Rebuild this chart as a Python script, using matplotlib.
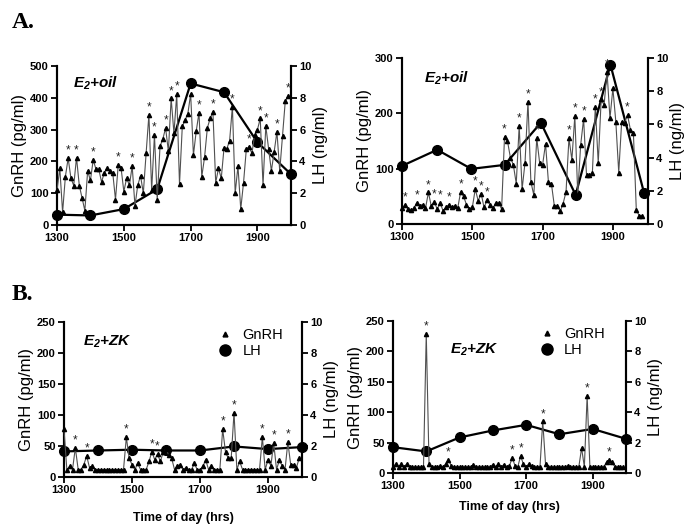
import numpy as np
import matplotlib
matplotlib.use("Agg")
import matplotlib.pyplot as plt
from matplotlib.lines import Line2D

plt.rcParams['font.family'] = ['Liberation Sans', 'DejaVu Sans']
plt.rcParams['mathtext.fontset'] = 'custom'
plt.rcParams['mathtext.it'] = 'Liberation Sans:bold:italic'
plt.rcParams['mathtext.rm'] = 'Liberation Sans:bold:italic'

# GnRH sampled every 5 min from 1300 hrs (time axis in decimal "hrs x 100")
t0 = 1300
step = 100 / 12

gnrh_a_oil1 = [110, 178, 40, 152, 210, 147, 124, 212, 124, 85,
               45, 170, 140, 205, 175, 175, 135, 165, 178, 170,
               165, 80, 190, 180, 105, 147, 125, 185, 60, 125,
               155, 100, 225, 346, 110, 283, 79, 248, 270, 305,
               232, 398, 288, 411, 128, 310, 330, 350, 412, 220,
               295, 353, 152, 213, 305, 335, 356, 133, 178, 147,
               243, 240, 265, 372, 100, 185, 50, 133, 238, 246,
               225, 283, 300, 335, 125, 311, 240, 170, 230, 293,
               170, 280, 390, 405]
stars_a_oil1 = [4, 7, 13, 22, 27, 33, 35, 39, 41, 43, 51, 56, 63, 69, 73, 75, 79, 83]
lh_t_a_oil1 = [1300, 1400, 1500, 1600, 1700, 1800, 1900, 2000]
lh_a_oil1 = [0.65, 0.6, 1.0, 2.25, 8.9, 8.35, 5.2, 3.2]

gnrh_a_oil2 = [28, 35, 27, 25, 28, 38, 33, 35, 28, 57,
               32, 40, 27, 38, 24, 30, 35, 30, 33, 28,
               58, 50, 35, 27, 30, 63, 42, 55, 30, 43,
               35, 28, 38, 38, 27, 158, 150, 120, 107, 73,
               177, 63, 111, 221, 76, 52, 155, 110, 107, 145,
               75, 73, 33, 33, 23, 37, 58, 155, 116, 195,
               55, 143, 190, 88, 88, 93, 212, 110, 225, 215,
               275, 191, 245, 185, 93, 185, 183, 197, 170, 165,
               25, 15, 15]
stars_a_oil2 = [1, 5, 9, 11, 13, 16, 20, 25, 27, 29, 35, 40, 43, 46, 57, 59, 62, 66, 68, 70, 77]
lh_t_a_oil2 = [1300, 1400, 1497, 1592, 1695, 1794, 1893, 1989]
lh_a_oil2 = [3.5, 4.47, 3.32, 3.56, 6.1, 1.75, 9.6, 1.85]

gnrh_b_zk1 = [77, 12, 17, 12, 47, 12, 12, 20, 34, 15,
              17, 12, 12, 12, 12, 12, 12, 12, 12, 12,
              12, 12, 64, 30, 20, 12, 22, 12, 12, 12,
              25, 41, 28, 37, 25, 40, 45, 35, 30, 12,
              18, 20, 12, 15, 12, 12, 22, 12, 12, 17,
              28, 12, 18, 12, 12, 12, 77, 40, 30, 30,
              104, 12, 25, 12, 12, 12, 12, 12, 12, 12,
              64, 12, 28, 18, 55, 12, 27, 18, 12, 56,
              20, 20, 15, 30]
stars_b_zk1 = [4, 8, 22, 31, 33, 56, 60, 70, 74, 79]
lh_t_b_zk1 = [1300, 1400, 1500, 1600, 1700, 1800, 1900, 2000]
lh_b_zk1 = [1.65, 1.71, 1.76, 1.71, 1.71, 1.97, 1.8, 1.93]

gnrh_b_zk2 = [10, 15, 10, 15, 10, 15, 10, 10, 10, 10,
              10, 10, 229, 15, 10, 10, 10, 12, 10, 15,
              22, 12, 10, 10, 10, 10, 10, 10, 10, 14,
              10, 10, 10, 10, 10, 10, 14, 10, 15, 10,
              14, 10, 12, 25, 12, 10, 28, 15, 10, 15,
              12, 10, 10, 10, 85, 15, 10, 10, 10, 10,
              10, 10, 10, 12, 10, 10, 10, 10, 41, 10,
              127, 10, 10, 10, 10, 10, 10, 18, 21, 18,
              10, 10, 10, 10]
stars_b_zk2 = [12, 20, 43, 46, 54, 70, 78]
lh_t_b_zk2 = [1300, 1400, 1500, 1600, 1700, 1800, 1900, 2000]
lh_b_zk2 = [1.7, 1.42, 2.34, 2.8, 3.17, 2.55, 2.9, 2.25]

xticks = [1300, 1500, 1700, 1900]


def panel(fig, rect, gnrh, stars, lh_t, lh, ymax, ystep, label, label_xy,
          legend_anchor=None, xlabel_pad=None):
    ax = fig.add_axes(rect)
    ax2 = ax.twinx()
    t = t0 + np.arange(len(gnrh)) * step
    g = np.array(gnrh)
    ax.plot(t, g, color='#505050', lw=0.8, marker='^', ms=3,
            mfc='black', mec='black', clip_on=False, zorder=3)
    for i in stars:
        ax.annotate('*', (t[i], g[i]), xytext=(0, 1), textcoords='offset points',
                    ha='center', va='bottom', fontsize=8.5, color='#222222')
    ax2.plot(lh_t, lh, color='black', lw=1.6, marker='o', ms=7,
             clip_on=False, zorder=4)
    ax.set_xlim(1300, 2000)
    ax.set_ylim(0, ymax)
    ax2.set_ylim(0, 10)
    ax.set_xticks(xticks)
    ax.set_yticks(np.arange(0, ymax + 1, ystep))
    ax2.set_yticks(np.arange(0, 11, 2))
    for a in (ax, ax2):
        a.spines['top'].set_visible(False)
        for s in ('left', 'right', 'bottom'):
            a.spines[s].set_linewidth(1.5)
        a.tick_params(direction='out', length=4, width=1.3, labelsize=8, pad=2)
        for lab in a.get_xticklabels() + a.get_yticklabels():
            lab.set_fontweight('bold')
    ax.set_ylabel('GnRH (pg/ml)', fontsize=12, labelpad=2)
    ax2.set_ylabel('LH (ng/ml)', fontsize=12, labelpad=1)
    ax.set_zorder(ax2.get_zorder() + 1)
    ax.patch.set_visible(False)
    ax.text(label_xy[0], label_xy[1], label, transform=ax.transAxes,
            fontsize=11, fontweight='bold', fontstyle='italic', va='center')
    if xlabel_pad is not None:
        ax.set_xlabel('Time of day (hrs)', fontsize=9, fontweight='bold',
                      labelpad=xlabel_pad)
    if legend_anchor is not None:
        handles = [Line2D([], [], ls='none', marker='^', ms=3.5, color='black'),
                   Line2D([], [], ls='none', marker='o', ms=8, color='black')]
        ax.legend(handles, ['GnRH', 'LH'], loc='upper right', frameon=False,
                  bbox_to_anchor=legend_anchor, fontsize=10.5, handlelength=1.2,
                  handletextpad=0.6, labelspacing=0.15, borderaxespad=0)
    return ax


fig = plt.figure(figsize=(6.98, 5.30), dpi=100)

panel(fig, [0.0817, 0.5755, 0.335, 0.300], gnrh_a_oil1, stars_a_oil1,
      lh_t_a_oil1, lh_a_oil1, 500, 100, r'$E_2$+oil', (0.07, 0.89))
panel(fig, [0.576, 0.5774, 0.3524, 0.3132], gnrh_a_oil2, stars_a_oil2,
      lh_t_a_oil2, lh_a_oil2, 300, 100, r'$E_2$+oil', (0.09, 0.88))
panel(fig, [0.0917, 0.100, 0.341, 0.2925], gnrh_b_zk1, stars_b_zk1,
      lh_t_b_zk1, lh_b_zk1, 250, 50, r'$E_2$+ZK', (0.08, 0.87),
      legend_anchor=(0.945, 1.0), xlabel_pad=12)
panel(fig, [0.563, 0.1075, 0.3338, 0.2868], gnrh_b_zk2, stars_b_zk2,
      lh_t_b_zk2, lh_b_zk2, 250, 50, r'$E_2$+ZK', (0.245, 0.81),
      legend_anchor=(0.935, 1.0), xlabel_pad=7)

fig.text(0.017, 0.958, 'A.', fontsize=17, fontweight='bold', family='Liberation Serif', va='center')
fig.text(0.017, 0.445, 'B.', fontsize=17, fontweight='bold', family='Liberation Serif', va='center')

fig.savefig('out.png', dpi=100)
